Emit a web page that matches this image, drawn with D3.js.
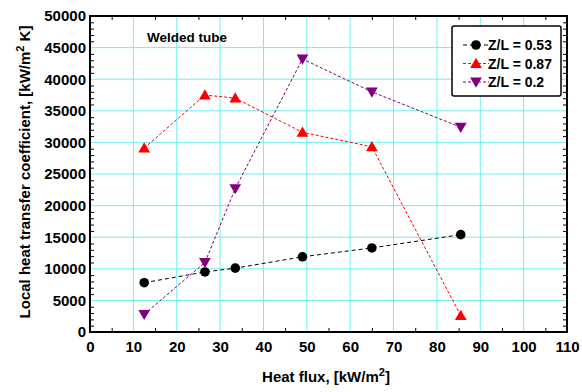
<!doctype html>
<html lang="en">
<head>
<meta charset="utf-8">
<title>Local heat transfer coefficient</title>
<style>
  body { margin: 0; background: #fff; }
  text { font-family: "Liberation Sans", Arial, sans-serif; font-weight: bold; }
</style>
</head>
<body>
<div id="mychart"></div>
<script src="https://d3js.org/d3.v7.min.js"></script>
<script>
// values
var heatFlux = [12.5, 26.5, 33.5, 49, 65, 85.5];
var zl053 = [7800, 9500, 10100, 11900, 13300, 15400];
var zl087 = [29100, 37500, 37000, 31600, 29300, 2600];
var zl02 = [2800, 11000, 22700, 43200, 38000, 32400];
var xTicks = [0, 10, 20, 30, 40, 50, 60, 70, 80, 90, 100, 110];
var yTicks = [0, 5000, 10000, 15000, 20000, 25000, 30000, 35000, 40000, 45000, 50000];

var series = [
  { name: "Z/L = 0.53", values: zl053, color: "#000000", marker: "circle", dash: "4,3" },
  { name: "Z/L = 0.87", values: zl087, color: "#ff0000", marker: "up", dash: "3,2" },
  { name: "Z/L = 0.2", values: zl02, color: "#800080", marker: "down", dash: "3,2" }
];

var width = 582, height = 392;
var m = { left: 90, right: 15, top: 16, bottom: 60 };

var svg = d3.select("#mychart").append("svg")
  .attr("width", width)
  .attr("height", height);

var x = d3.scaleLinear().domain([0, 110]).range([m.left, width - m.right]);
var y = d3.scaleLinear().domain([0, 50000]).range([height - m.bottom, m.top]);

// grid
svg.append("g").selectAll("line").data(xTicks.slice(1, -1)).enter().append("line")
  .attr("x1", d => x(d)).attr("x2", d => x(d))
  .attr("y1", y(0)).attr("y2", y(50000))
  .attr("stroke", "#6ff0f2").attr("stroke-width", 1);
svg.append("g").selectAll("line").data(yTicks.slice(1, -1)).enter().append("line")
  .attr("x1", x(0)).attr("x2", x(110))
  .attr("y1", d => y(d)).attr("y2", d => y(d))
  .attr("stroke", "#6ff0f2").attr("stroke-width", 1);

// axes with inward ticks
var xMinor = d3.range(5, 110, 10);
var yMinor = d3.range(0, 50001, 1000).filter(d => d % 5000 !== 0);

svg.append("g").attr("transform", "translate(0," + y(0) + ")")
  .call(d3.axisBottom(x).tickValues(xMinor).tickSize(-4).tickFormat(""));
svg.append("g").attr("transform", "translate(0," + y(50000) + ")")
  .call(d3.axisTop(x).tickValues(xMinor).tickSize(-4).tickFormat(""));
svg.append("g").attr("transform", "translate(" + x(0) + ",0)")
  .call(d3.axisLeft(y).tickValues(yMinor).tickSize(-4).tickFormat(""));
svg.append("g").attr("transform", "translate(" + x(110) + ",0)")
  .call(d3.axisRight(y).tickValues(yMinor).tickSize(-4).tickFormat(""));
svg.selectAll(".domain").remove();

var xAxis = svg.append("g").attr("transform", "translate(0," + y(0) + ")")
  .call(d3.axisBottom(x).tickValues(xTicks).tickSize(0).tickPadding(9).tickFormat(d3.format("d")));
xAxis.select(".domain").remove();
xAxis.selectAll("text").attr("font-size", 15).attr("fill", "#000");

var yAxis = svg.append("g").attr("transform", "translate(" + x(0) + ",0)")
  .call(d3.axisLeft(y).tickValues(yTicks).tickSize(0).tickPadding(4).tickFormat(d3.format("d")));
yAxis.select(".domain").remove();
yAxis.selectAll("text").attr("font-size", 15).attr("fill", "#000");

// frame
svg.append("rect")
  .attr("x", x(0)).attr("y", y(50000))
  .attr("width", x(110) - x(0)).attr("height", y(0) - y(50000))
  .attr("fill", "none").attr("stroke", "#000").attr("stroke-width", 2);

// series
var line = d3.line().x((d, i) => x(heatFlux[i])).y(d => y(d));
var tri = d3.symbol().type(d3.symbolTriangle).size(60);

function marker(g, s, px, py) {
  if (s.marker === "circle") {
    g.append("circle").attr("cx", px).attr("cy", py).attr("r", 4.8).attr("fill", s.color);
  } else {
    g.append("path").attr("d", tri)
      .attr("transform", "translate(" + px + "," + (py + (s.marker === "up" ? 1 : -1)) + ")" + (s.marker === "down" ? " rotate(180)" : ""))
      .attr("fill", s.color);
  }
}

series.forEach(function(s) {
  var g = svg.append("g");
  g.append("path").attr("d", line(s.values))
    .attr("fill", "none").attr("stroke", s.color).attr("stroke-width", 1)
    .attr("stroke-dasharray", s.dash);
  s.values.forEach(function(v, i) { marker(g, s, x(heatFlux[i]), y(v)); });
});

// annotation
svg.append("text").attr("x", 147).attr("y", 42).attr("font-size", 13.5).text("Welded tube");

// legend
var lg = svg.append("g").attr("transform", "translate(452,26)");
lg.append("rect").attr("width", 109).attr("height", 70).attr("rx", 2)
  .attr("fill", "#fff").attr("stroke", "#000").attr("stroke-width", 1.5);
series.forEach(function(s, i) {
  var ly = 19 + i * 18.5;
  lg.append("line").attr("x1", 11).attr("x2", 37).attr("y1", ly).attr("y2", ly)
    .attr("stroke", s.color).attr("stroke-width", 1).attr("stroke-dasharray", s.dash);
  marker(lg, s, 24, ly);
  lg.append("text").attr("x", 36).attr("y", ly + 5).attr("font-size", 14).text(s.name);
});

// axis titles
var xt = svg.append("text").attr("x", 326).attr("y", 382).attr("font-size", 15).attr("text-anchor", "middle");
xt.append("tspan").text("Heat flux, [kW/m");
xt.append("tspan").attr("dy", -6).attr("font-size", 11).text("2");
xt.append("tspan").attr("dy", 6).text("]");

var yt = svg.append("text").attr("transform", "translate(30,172) rotate(-90)")
  .attr("font-size", 15).attr("text-anchor", "middle");
yt.append("tspan").text("Local heat transfer coefficient, [kW/m");
yt.append("tspan").attr("dy", -6).attr("font-size", 11).text("2");
yt.append("tspan").attr("dy", 6).text(" K]");
</script>
</body>
</html>
